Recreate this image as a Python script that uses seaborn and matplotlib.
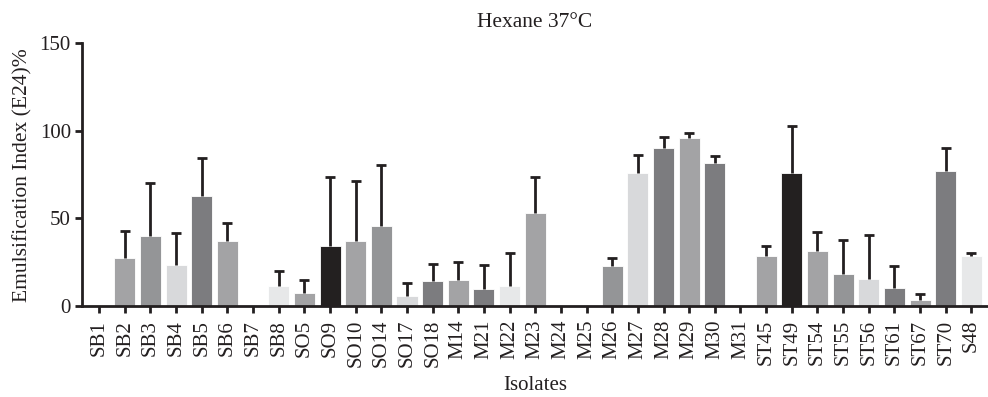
import numpy as np
import pandas as pd
import matplotlib
matplotlib.use("Agg")
import matplotlib.pyplot as plt
import seaborn as sns

isolates = ["SB1", "SB2", "SB3", "SB4", "SB5", "SB6", "SB7", "SB8",
            "SO5", "SO9", "SO10", "SO14", "SO17", "SO18",
            "M14", "M21", "M22", "M23", "M24", "M25", "M26", "M27", "M28",
            "M29", "M30", "M31",
            "ST45", "ST49", "ST54", "ST55", "ST56", "ST61", "ST67", "ST70",
            "S48"]
e24_mean = [0, 27.6, 40.2, 23.4, 62.9, 37.1, 0, 11.2,
            7.4, 34.1, 37.1, 45.9, 5.7, 14.5,
            14.7, 9.5, 11.6, 53.0, 0, 0, 23.0, 75.8, 90.1,
            96.2, 81.7, 0,
            28.6, 75.8, 31.2, 18.1, 15.4, 10.1, 3.4, 77.0,
            28.6]
e24_sd = [0, 15.0, 30.0, 18.2, 21.8, 10.2, 0, 8.7,
          7.3, 39.5, 34.0, 34.8, 7.7, 9.2,
          10.3, 14.0, 18.5, 20.4, 0, 0, 4.5, 10.6, 6.2,
          2.3, 3.7, 0,
          5.8, 26.8, 10.8, 19.7, 25.3, 12.8, 3.5, 13.4,
          1.4]

BLK, DK, MD, ML, LT, VL = "#231f20", "#7b7c80", "#939598", "#a2a3a6", "#d8d9db", "#e7e8e9"
bar_colors = [ML, ML, MD, LT, DK, ML, ML, VL,
              ML, BLK, ML, MD, LT, DK,
              ML, DK, VL, ML, ML, ML, MD, LT, DK,
              ML, DK, ML,
              ML, BLK, ML, MD, LT, DK, ML, DK,
              VL]

df = pd.DataFrame({"Isolate": isolates, "E24": e24_mean, "SD": e24_sd})

sns.set_style("ticks")
plt.rcParams["font.family"] = ["Liberation Serif", "DejaVu Serif"]
plt.rcParams["text.color"] = "#231f20"

fig = plt.figure(figsize=(9.88, 3.97), dpi=100)
ax = fig.add_axes([82 / 988, 91 / 397, 1 - 82 / 988, 262.7 / 397])

sns.barplot(data=df, x="Isolate", y="E24", hue="Isolate",
            palette=dict(zip(isolates, bar_colors)), legend=False,
            width=0.82, linewidth=0.6, edgecolor="white", ax=ax, errorbar=None)

m = df["E24"] > 0
sub = df[m]
eb = ax.errorbar(sub["Isolate"], sub["E24"],
                 yerr=[np.zeros(len(sub)), sub["SD"]],
                 fmt="none", ecolor="#231f20", elinewidth=2.0,
                 capsize=3.5, capthick=2.0, zorder=1)
eb[1][0].set_visible(False)

ax.set_xlim(-0.67, 34.65)
ax.set_ylim(0, 150)
ax.set_yticks([0, 50, 100, 150])

for s in ["top", "right"]:
    ax.spines[s].set_visible(False)
for s in ["left", "bottom"]:
    ax.spines[s].set_linewidth(2.0)
    ax.spines[s].set_color("#231f20")

ax.tick_params(axis="both", which="major", length=5, width=2.0,
               color="#231f20", labelcolor="#231f20", labelsize=15, pad=3)
ax.tick_params(axis="x", labelrotation=90, pad=5)

ax.set_xlabel("Isolates", fontsize=15, labelpad=6, color="#231f20")
ax.set_ylabel("Emulsification Index (E24)%", fontsize=15.5, labelpad=5, color="#231f20")
ax.set_title("Hexane 37°C", fontsize=15.5, pad=12, color="#231f20")

fig.savefig("out.png", dpi=100)
